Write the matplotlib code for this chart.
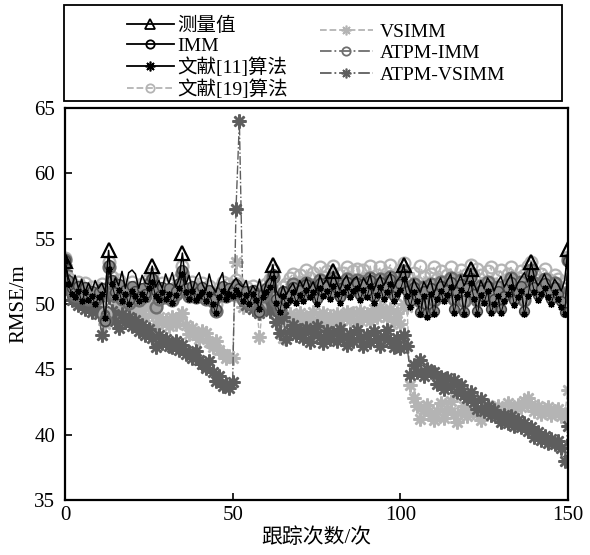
import matplotlib
matplotlib.use("Agg")
import matplotlib.pyplot as plt
from matplotlib.lines import Line2D
from matplotlib.patches import Rectangle
import numpy as np

plt.rcParams['font.family'] = ['Liberation Serif', 'Noto Sans CJK SC']
plt.rcParams['mathtext.fontset'] = 'stix'

x = list(range(151))

measured = [
    53.3, 52.0, 51.3, 52.2, 51.2, 51.9, 50.9, 51.6, 51.0, 51.8,
    51.2, 51.6, 50.9, 54.1, 51.3, 52.0, 51.4, 52.5, 51.2, 52.4,
    52.6, 52.3, 51.2, 52.2, 51.6, 51.5, 52.9, 51.3, 51.8, 51.2,
    52.3, 51.6, 52.4, 51.3, 51.9, 53.9, 51.5, 52.2, 51.0, 52.0,
    52.4, 51.5, 51.0, 52.3, 51.3, 50.9, 51.8, 52.4, 50.6, 51.2,
    51.6, 52.0, 51.5, 51.3, 51.8, 50.8, 51.4, 51.0, 51.9, 50.7,
    51.6, 52.0, 53.0, 51.0, 50.5, 51.4, 50.7, 51.2, 51.6, 50.9,
    51.8, 51.3, 52.0, 51.2, 51.7, 51.0, 52.2, 51.5, 51.9, 51.3,
    52.5, 51.6, 51.1, 51.8, 52.2, 51.4, 51.9, 52.1, 51.3, 52.0,
    51.5, 52.3, 51.0, 51.7, 52.2, 51.4, 51.9, 52.4, 51.2, 51.8,
    52.1, 53.0, 51.6, 50.8, 51.9, 51.3, 50.9, 51.7, 51.2, 51.9,
    50.8, 51.5, 52.0, 51.3, 51.8, 52.3, 51.1, 51.6, 52.2, 51.4,
    51.9, 52.7, 51.5, 50.9, 51.8, 51.2, 52.0, 51.6, 51.0, 51.7,
    52.1, 51.3, 51.8, 52.3, 51.0, 51.6, 52.0, 52.4, 51.7, 53.2,
    52.0, 51.4, 51.8, 52.3, 51.6, 51.2, 51.9, 51.5, 51.0, 51.8,
    54.2]
measured_marks = [0, 13, 26, 35, 62, 80, 101, 121, 139, 150]

imm = [
    53.4, 51.8, 51.2, 50.9, 51.4, 50.7, 51.3, 50.6, 51.0, 50.4,
    50.9, 51.2, 48.7, 53.0, 51.8, 50.9, 51.5, 50.6, 51.1, 50.3,
    51.4, 51.0, 50.5, 51.2, 50.8, 51.6, 52.0, 51.0, 50.6, 51.3,
    50.7, 51.2, 50.5, 51.0, 51.6, 52.6, 51.2, 50.8, 51.4, 50.7,
    51.0, 51.3, 50.6, 51.1, 50.4, 49.6, 50.9, 51.4, 50.8, 51.2,
    50.9, 51.5, 51.2, 50.6, 51.0, 50.3, 51.1, 50.7, 49.4, 50.8,
    51.2, 51.6, 52.3, 50.4, 49.8, 51.0, 50.2, 50.7, 51.3, 50.5,
    51.1, 50.6, 51.5, 50.9, 51.3, 50.4, 51.6, 51.0, 51.4, 50.8,
    51.8, 51.2, 50.5, 51.3, 51.7, 50.9, 51.4, 51.6, 50.7, 51.5,
    50.9, 51.8, 50.5, 51.1, 51.7, 50.8, 51.3, 51.9, 50.6, 51.2,
    51.5, 52.3, 51.0, 50.2, 51.3, 50.6, 49.4, 51.0, 49.3, 51.2,
    49.5, 50.8, 51.4, 50.6, 51.1, 51.7, 49.6, 50.9, 51.5, 49.4,
    51.2, 52.0, 50.8, 49.5, 51.1, 50.5, 51.4, 49.6, 50.4, 51.0,
    49.6, 50.6, 51.2, 51.7, 50.3, 50.9, 51.4, 49.5, 51.0, 52.4,
    51.3, 50.7, 51.2, 51.6, 50.9, 50.4, 51.3, 50.8, 50.2, 49.4,
    53.3]

lit11 = [
    53.3, 51.5, 50.8, 50.5, 51.0, 50.2, 50.9, 50.3, 50.6, 50.0,
    50.5, 50.8, 48.9, 52.7, 51.5, 50.5, 51.1, 50.2, 50.8, 50.0,
    51.0, 50.6, 50.2, 50.8, 50.4, 51.2, 51.7, 50.6, 50.3, 50.9,
    50.4, 50.8, 50.1, 50.7, 51.2, 52.3, 50.9, 50.4, 51.0, 50.3,
    50.6, 50.9, 50.2, 50.8, 50.0, 49.3, 50.5, 51.0, 50.4, 50.8,
    50.6, 51.1, 50.8, 50.2, 50.7, 50.0, 50.8, 50.3, 49.6, 50.5,
    50.9, 51.3, 52.0, 50.1, 49.4, 50.6, 49.9, 50.3, 50.9, 50.1,
    50.7, 50.2, 51.1, 50.5, 50.9, 50.0, 51.2, 50.6, 51.0, 50.4,
    51.4, 50.8, 50.1, 50.9, 51.3, 50.5, 51.0, 51.2, 50.3, 51.1,
    50.5, 51.4, 50.1, 50.7, 51.3, 50.4, 50.9, 51.5, 50.2, 50.8,
    51.1, 51.9, 50.6, 49.8, 50.9, 50.2, 49.2, 50.6, 49.0, 50.8,
    49.2, 50.4, 51.0, 50.2, 50.7, 51.3, 49.3, 50.5, 51.1, 49.2,
    50.8, 51.6, 50.4, 49.2, 50.7, 50.1, 51.0, 49.3, 50.0, 50.6,
    49.3, 50.2, 50.8, 51.3, 49.9, 50.5, 51.0, 49.2, 50.6, 52.0,
    50.9, 50.3, 50.8, 51.2, 50.5, 50.0, 50.9, 50.4, 49.8, 49.2,
    52.9]

lit19 = [
    53.5, 52.0, 51.6, 51.2, 51.7, 51.0, 51.6, 50.9, 51.3, 50.8,
    51.2, 51.5, 49.2, 53.2, 52.1, 51.2, 51.8, 50.9, 51.4, 50.6,
    51.7, 51.3, 50.8, 51.5, 51.1, 51.9, 52.3, 49.9, 50.9, 51.6,
    51.0, 51.5, 50.8, 51.3, 51.9, 52.9, 51.5, 51.1, 51.7, 51.0,
    51.3, 51.6, 50.9, 51.4, 50.7, 50.0, 51.2, 51.7, 51.1, 51.5,
    51.2, 51.8, 51.5, 50.9, 51.3, 50.6, 51.4, 51.0, 49.8, 51.1,
    51.5, 51.9, 52.6, 50.7, 50.2, 51.3, 51.5, 52.0, 52.3, 51.6,
    52.2, 51.7, 52.6, 52.0, 52.4, 51.5, 52.8, 52.1, 52.5, 51.9,
    52.9, 52.3, 51.6, 52.4, 52.8, 52.0, 52.5, 52.7, 51.8, 52.6,
    52.0, 52.9, 51.6, 52.2, 52.8, 51.9, 52.4, 53.0, 51.7, 52.3,
    52.6, 53.1, 52.1, 51.3, 52.4, 51.7, 52.9, 52.1, 51.6, 52.3,
    52.8, 51.9, 52.5, 51.7, 52.2, 52.8, 51.8, 52.0, 52.6, 51.5,
    52.3, 53.0, 51.9, 52.7, 52.2, 51.6, 52.5, 52.8, 51.5, 52.1,
    52.6, 51.7, 52.3, 52.8, 51.4, 52.0, 52.5, 52.2, 52.9, 53.2,
    52.4, 51.8, 52.3, 52.7, 51.9, 51.5, 52.2, 51.9, 51.3, 51.6,
    53.6]

vsimm = [
    53.0, 51.5, 50.8, 51.2, 50.4, 50.9, 50.2, 50.7, 50.0, 50.5,
    49.8, 50.4, 48.5, 51.3, 50.6, 49.6, 50.2, 49.5, 50.0, 49.3,
    49.8, 50.3, 49.4, 49.6, 49.0, 49.8, 49.2, 48.5, 49.0, 48.6,
    48.8, 48.3, 49.0, 48.5, 48.9, 49.3, 48.4, 47.7, 48.2, 47.6,
    47.3, 47.9, 47.8, 47.1, 46.7, 47.2, 46.5, 46.2, 45.9, 46.0,
    45.9, 53.2, 50.5, 49.8, 50.6, 50.1, 49.6, 50.3, 47.5, 49.9,
    50.4, 50.0, 50.7, 49.5, 48.8, 47.4, 48.6, 49.2, 48.4, 48.9,
    49.3, 48.5, 49.0, 48.7, 49.4, 48.6, 48.9, 49.3, 48.4, 49.1,
    48.7, 49.2, 48.5, 49.0, 49.4, 48.8, 49.3, 48.6, 49.5, 48.9,
    49.2, 48.7, 49.6, 49.0, 49.8, 49.3, 49.0, 49.6, 48.7, 49.3,
    48.5, 50.0, 49.8, 43.8, 42.8, 42.2, 41.2, 41.9, 42.3, 41.5,
    41.1, 41.8, 42.4, 41.3, 42.0, 42.6, 41.6, 41.0, 41.7, 42.2,
    41.4, 41.9, 42.5, 41.6, 41.1, 41.8, 42.3, 41.5, 41.9, 42.2,
    41.3, 41.7, 42.4, 41.5, 41.9, 42.3, 42.1, 42.6, 42.8, 42.3,
    41.8, 42.2, 41.6, 41.9, 42.1, 41.5, 41.8, 42.0, 41.4, 41.6,
    43.4]

atpm_imm = [
    53.4, 51.7, 51.0, 50.7, 51.2, 50.5, 51.1, 50.4, 50.8, 50.3,
    50.7, 51.0, 48.8, 52.8, 51.6, 50.7, 51.3, 50.4, 50.9, 50.1,
    51.2, 50.8, 50.3, 51.0, 50.6, 51.4, 51.8, 49.8, 50.4, 51.1,
    50.5, 51.0, 50.3, 50.8, 51.4, 52.4, 51.0, 50.6, 51.2, 50.5,
    50.8, 51.1, 50.4, 50.9, 50.2, 49.5, 50.7, 51.2, 50.6, 51.0,
    50.8, 51.3, 51.0, 50.4, 50.8, 50.1, 50.9, 50.5, 49.5, 50.6,
    51.0, 51.4, 52.1, 50.2, 49.6, 50.8, 50.4, 51.0, 51.5, 50.7,
    51.2, 50.8, 51.6, 51.0, 51.4, 50.6, 51.8, 51.2, 51.6, 51.0,
    52.0, 51.4, 50.8, 51.5, 51.9, 51.1, 51.6, 51.8, 50.9, 51.7,
    51.1, 52.0, 50.8, 51.3, 51.9, 51.0, 51.5, 52.1, 50.9, 51.4,
    51.7, 52.5, 51.2, 50.5, 51.5, 50.9, 50.2, 51.3, 50.0, 51.5,
    50.3, 51.1, 51.7, 50.9, 51.4, 52.0, 50.4, 51.2, 51.8, 50.2,
    51.5, 52.3, 51.1, 50.3, 51.4, 50.8, 51.7, 50.4, 50.7, 51.3,
    50.4, 50.9, 51.5, 52.0, 50.6, 51.2, 51.7, 50.3, 51.3, 52.6,
    51.6, 51.0, 51.5, 51.9, 51.2, 50.7, 51.6, 51.1, 50.5, 50.0,
    53.4]

atpm_vsimm = [
    52.5, 51.0, 50.3, 50.6, 49.9, 50.3, 49.6, 50.1, 49.4, 49.8,
    49.2, 47.6, 49.0, 50.5, 49.5, 48.7, 48.2, 49.2, 48.6, 49.0,
    48.3, 48.8, 47.9, 48.4, 47.6, 48.1, 47.4, 46.7, 47.6, 47.0,
    47.3, 46.8, 46.7, 47.2, 46.5, 46.9, 46.2, 46.3, 45.9, 46.4,
    45.7, 45.4, 45.1, 45.6, 44.8, 44.1, 44.5, 43.7, 43.9, 43.6,
    44.0, 57.3, 64.0, 50.7, 49.9, 50.4, 49.6, 50.1, 49.3, 49.8,
    50.2, 49.5, 50.0, 48.6, 47.8, 49.0, 47.3, 47.9, 48.4, 47.6,
    48.0, 47.4, 48.2, 47.1, 47.8, 48.3, 47.5, 47.0, 47.9, 47.3,
    47.8, 47.2, 48.1, 47.5, 46.9, 47.7, 47.2, 48.0, 47.4, 46.8,
    47.6, 47.1, 47.9, 47.3, 46.8, 47.5, 48.0, 47.2, 46.7, 47.4,
    46.6, 47.6, 46.8, 44.6, 45.3, 44.8, 45.7, 44.5, 45.0, 44.8,
    44.8, 43.9, 44.4, 43.5, 44.3, 43.7, 44.2, 43.3, 43.8, 43.0,
    42.8, 43.3, 42.5, 42.0, 42.7, 41.8, 42.2, 41.5, 41.9, 41.4,
    41.0, 41.5, 40.9, 41.4, 40.7, 41.1, 40.6, 40.9, 40.3, 40.6,
    39.8, 40.2, 39.6, 39.9, 39.4, 39.7, 39.3, 39.5, 39.0, 38.0,
    40.7]

labels_col1 = ['测量值', 'IMM', '文献[11]算法', '文献[19]算法']
labels_col2 = ['VSIMM', 'ATPM-IMM', 'ATPM-VSIMM']

xticks = [0, 50, 100, 150]
yticks = [35, 40, 45, 50, 55, 60, 65]

LIGHT = '#b4b4b4'
MID = '#6e6e6e'
DARK = '#5e5e5e'
AST = (8, 2, 0)

fig = plt.figure(figsize=(5.90, 5.55), dpi=100)
ax = fig.add_axes([65/590, 55/555, 503/590, 392/555])

h_vs, = ax.plot(x, vsimm, color=LIGHT, ls='--', lw=1.0, marker=AST, ms=10,
                mfc=LIGHT, mec=LIGHT, mew=1.8, label=labels_col2[0], zorder=2)
h_avs, = ax.plot(x, atpm_vsimm, color=DARK, ls='-.', lw=1.0, marker=AST, ms=10,
                 mfc=DARK, mec=DARK, mew=1.8, label=labels_col2[2], zorder=2.1)
h_l19, = ax.plot(x, lit19, color=LIGHT, ls='--', lw=1.0, marker='o', ms=8.5,
                 mfc='none', mec=LIGHT, mew=1.6, label=labels_col1[3], zorder=2.2)
h_aimm, = ax.plot(x, atpm_imm, color=MID, ls='-.', lw=0.9, marker='o', ms=8.5,
                  mfc='#a0a0a0', mec=MID, mew=1.7, label=labels_col2[1], zorder=2.3)
h_imm, = ax.plot(x, imm, color='black', ls='-', lw=0.7, marker='o', ms=7,
                 mfc='#8c8c8c', mec='#444444', mew=1.1, label=labels_col1[1], zorder=2.4)
h_l11, = ax.plot(x, lit11, color='black', ls='-', lw=0.7, marker=AST, ms=5,
                 mfc='black', mec='black', mew=0.9, label=labels_col1[2], zorder=2.5)
h_meas, = ax.plot(x, measured, color='black', ls='-', lw=1.1, marker='^', ms=10,
                  mfc='none', mec='black', mew=1.6, markevery=measured_marks,
                  label=labels_col1[0], zorder=2.6)

ax.set_xlim(0, 150)
ax.set_ylim(35, 65)
ax.set_xticks(xticks)
ax.set_yticks(yticks)
ax.tick_params(direction='in', length=5, width=1.2, labelsize=15, pad=7)
ax.tick_params(axis='x', pad=4)
for s in ax.spines.values():
    s.set_linewidth(1.6)
    s.set_zorder(5)
ax.set_xlabel('跟踪次数/次', fontsize=15, labelpad=3)
ax.set_ylabel('RMSE/m', fontsize=15, labelpad=4)

# legend frame
fig.patches.append(Rectangle((64/590, (555-101)/555), 498/590, 96/555,
                             transform=fig.transFigure, fill=False,
                             edgecolor='black', linewidth=1.3))

def mkh(color, ls, marker, ms, mfc, mec, mew):
    return Line2D([], [], color=color, ls=ls, lw=1.3, marker=marker, ms=ms,
                  mfc=mfc, mec=mec, mew=mew)

hc1 = [mkh('black', '-', '^', 7, 'none', 'black', 1.3),
       mkh('black', '-', 'o', 6, 'none', 'black', 1.3),
       mkh('black', '-', AST, 7, 'black', 'black', 1.2),
       mkh(LIGHT, '--', 'o', 6, 'none', LIGHT, 1.3)]
hc2 = [mkh(LIGHT, '--', AST, 7, LIGHT, LIGHT, 1.2),
       mkh(MID, '-.', 'o', 6, 'none', MID, 1.3),
       mkh(DARK, '-.', AST, 7, DARK, DARK, 1.2)]

leg1 = fig.legend(hc1, labels_col1, loc='upper left',
                  bbox_to_anchor=(127/590, (555-17)/555), frameon=False,
                  fontsize=14, handlelength=2.4, handletextpad=0.2,
                  labelspacing=0.12, borderpad=0, borderaxespad=0)
leg2 = fig.legend(hc2, labels_col2, loc='upper left',
                  bbox_to_anchor=(320/590, (555-23)/555), frameon=False,
                  fontsize=14, handlelength=2.7, handletextpad=0.4,
                  labelspacing=0.2, borderpad=0, borderaxespad=0)

fig.savefig('out.png', dpi=100)
